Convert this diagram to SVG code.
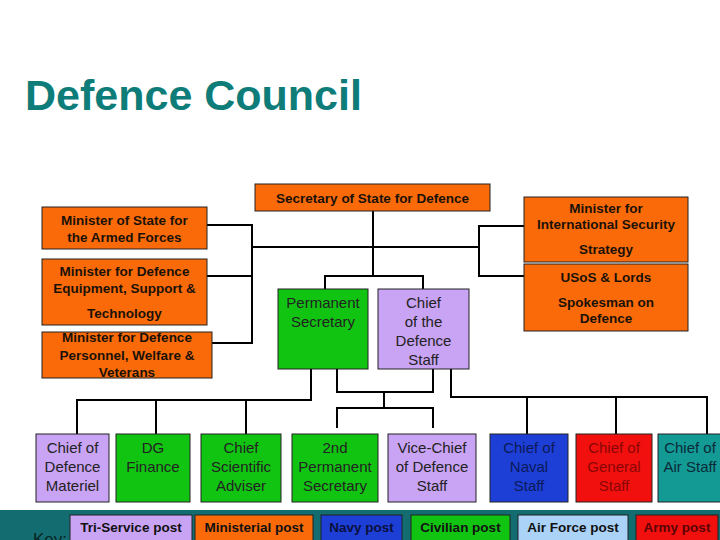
<svg xmlns="http://www.w3.org/2000/svg" width="720" height="540" viewBox="0 0 720 540">
<style>
.box{stroke:#222;stroke-width:1}
.min{fill:#FA6A08}
.civ{fill:#12C412}
.tri{fill:#C9A3F4}
.navy{fill:#1D3FD6}
.army{fill:#F2100E}
.air{fill:#149A94}
.af{fill:#AAD3F7}
.bt{font-family:"Liberation Sans",Arial,sans-serif;font-weight:bold;font-size:13.5px;fill:#1a1208;text-anchor:middle}
.nt{font-family:"Liberation Sans",Arial,sans-serif;font-size:15px;fill:#222;text-anchor:middle}
.kt{font-family:"Liberation Sans",Arial,sans-serif;font-weight:bold;font-size:13.5px;fill:#111;text-anchor:middle}
.conn{stroke:#000;stroke-width:2;fill:none}
</style>
<rect width="720" height="540" fill="#fff"/>
<text x="25" y="110" font-family="'Liberation Sans',Arial,sans-serif" font-weight="bold" font-size="43" fill="#0E7C78">Defence Council</text>

<g id="connectors" class="conn">
<polyline points="207,225 252,225 252,343 208,343"/>
<line x1="207" y1="276" x2="252" y2="276"/>
<line x1="252" y1="247" x2="479" y2="247"/>
<polyline points="524,226 479,226 479,276 524,276"/>
<line x1="373" y1="211" x2="373" y2="276"/>
<polyline points="325,289 325,276 423,276 423,289"/>
<polyline points="311,369 311,400 77,400 77,434"/>
<line x1="156" y1="400" x2="156" y2="434"/>
<line x1="246" y1="400" x2="246" y2="434"/>
<polyline points="337,369 337,392 433,392 433,369"/>
<line x1="384" y1="392" x2="384" y2="408"/>
<polyline points="337,428 337,408 433,408 433,428"/>
<polyline points="451,369 451,397 707,397 707,434"/>
<line x1="527" y1="397" x2="527" y2="434"/>
<line x1="616" y1="397" x2="616" y2="434"/>
</g>

<g id="sos">
<rect class="box min" x="255" y="184" width="235" height="27"/>
<text class="bt" x="372.5" y="203" font-size="15">Secretary of State for Defence</text>
</g>
<g id="armed-forces">
<rect class="box min" x="42" y="207" width="165" height="42"/>
<text class="bt" x="124.5" y="225">Minister of State for</text>
<text class="bt" x="124.5" y="242">the Armed Forces</text>
</g>
<g id="equipment">
<rect class="box min" x="42" y="259" width="165" height="66"/>
<text class="bt" x="124.5" y="276">Minister for Defence</text>
<text class="bt" x="124.5" y="293">Equipment, Support &amp;</text>
<text class="bt" x="124.5" y="318">Technology</text>
</g>
<g id="personnel">
<rect class="box min" x="42" y="332" width="170" height="46"/>
<text class="bt" x="127" y="342">Minister for Defence</text>
<text class="bt" x="127" y="360">Personnel, Welfare &amp;</text>
<text class="bt" x="127" y="377">Veterans</text>
</g>
<g id="intl-security">
<rect class="box min" x="524" y="197" width="164" height="65"/>
<text class="bt" x="606" y="213">Minister for</text>
<text class="bt" x="606" y="229">International Security</text>
<text class="bt" x="606" y="254">Strategy</text>
</g>
<g id="usos">
<rect class="box min" x="524" y="264" width="164" height="67"/>
<text class="bt" x="606" y="282">USoS &amp; Lords</text>
<text class="bt" x="606" y="307">Spokesman on</text>
<text class="bt" x="606" y="323">Defence</text>
</g>
<g id="perm-sec">
<rect class="box civ" x="278" y="289" width="90" height="80"/>
<text class="nt" x="323" y="308">Permanent</text>
<text class="nt" x="323" y="327">Secretary</text>
</g>
<g id="cds">
<rect class="box tri" x="378" y="289" width="91" height="80"/>
<text class="nt" x="423.5" y="308">Chief</text>
<text class="nt" x="423.5" y="327">of the</text>
<text class="nt" x="423.5" y="346">Defence</text>
<text class="nt" x="423.5" y="365">Staff</text>
</g>

<g id="cdm">
<rect class="box tri" x="36" y="434" width="73" height="68"/>
<text class="nt" x="72.5" y="453">Chief of</text>
<text class="nt" x="72.5" y="472">Defence</text>
<text class="nt" x="72.5" y="491">Materiel</text>
</g>
<g id="dg-finance">
<rect class="box civ" x="116" y="434" width="74" height="68"/>
<text class="nt" x="153" y="453">DG</text>
<text class="nt" x="153" y="472">Finance</text>
</g>
<g id="csa">
<rect class="box civ" x="201" y="434" width="80" height="68"/>
<text class="nt" x="241" y="453">Chief</text>
<text class="nt" x="241" y="472">Scientific</text>
<text class="nt" x="241" y="491">Adviser</text>
</g>
<g id="2nd-pus">
<rect class="box civ" x="292" y="434" width="86" height="68"/>
<text class="nt" x="335" y="453">2nd</text>
<text class="nt" x="335" y="472">Permanent</text>
<text class="nt" x="335" y="491">Secretary</text>
</g>
<g id="vcds">
<rect class="box tri" x="388" y="434" width="88" height="68"/>
<text class="nt" x="432" y="453">Vice-Chief</text>
<text class="nt" x="432" y="472">of Defence</text>
<text class="nt" x="432" y="491">Staff</text>
</g>
<g id="cns">
<rect class="box navy" x="490" y="434" width="78" height="68"/>
<text class="nt" x="529" y="453" fill="#0c1a5a" style="fill:#0c1a5a">Chief of</text>
<text class="nt" x="529" y="472" style="fill:#0c1a5a">Naval</text>
<text class="nt" x="529" y="491" style="fill:#0c1a5a">Staff</text>
</g>
<g id="cgs">
<rect class="box army" x="576" y="434" width="76" height="68"/>
<text class="nt" x="614" y="453" style="fill:#8a0606">Chief of</text>
<text class="nt" x="614" y="472" style="fill:#8a0606">General</text>
<text class="nt" x="614" y="491" style="fill:#8a0606">Staff</text>
</g>
<g id="cas">
<rect class="box air" x="658" y="434" width="80" height="68"/>
<text class="nt" x="690" y="453" style="fill:#0a2a3a">Chief of</text>
<text class="nt" x="690" y="472" style="fill:#0a2a3a">Air Staff</text>
</g>

<g id="key">
<rect x="0" y="510" width="720" height="30" fill="#136C70"/>
<text x="33" y="545" font-family="'Liberation Sans',Arial,sans-serif" font-size="17" fill="#0a2424">Key:</text>
<rect class="box tri" x="70" y="515" width="122" height="30"/>
<text class="kt" x="131" y="532">Tri-Service post</text>
<rect class="box min" x="195" y="515" width="118" height="30"/>
<text class="kt" x="254" y="532">Ministerial post</text>
<rect class="box navy" x="321" y="515" width="81" height="30"/>
<text class="kt" x="361.5" y="532" style="fill:#0a1040">Navy post</text>
<rect class="box civ" x="411" y="515" width="99" height="30"/>
<text class="kt" x="460.5" y="532">Civilian post</text>
<rect class="box af" x="518" y="515" width="110" height="30"/>
<text class="kt" x="573" y="532">Air Force post</text>
<rect class="box army" x="636" y="515" width="82" height="30"/>
<text class="kt" x="677" y="532" style="fill:#5a0404">Army post</text>
</g>
</svg>
